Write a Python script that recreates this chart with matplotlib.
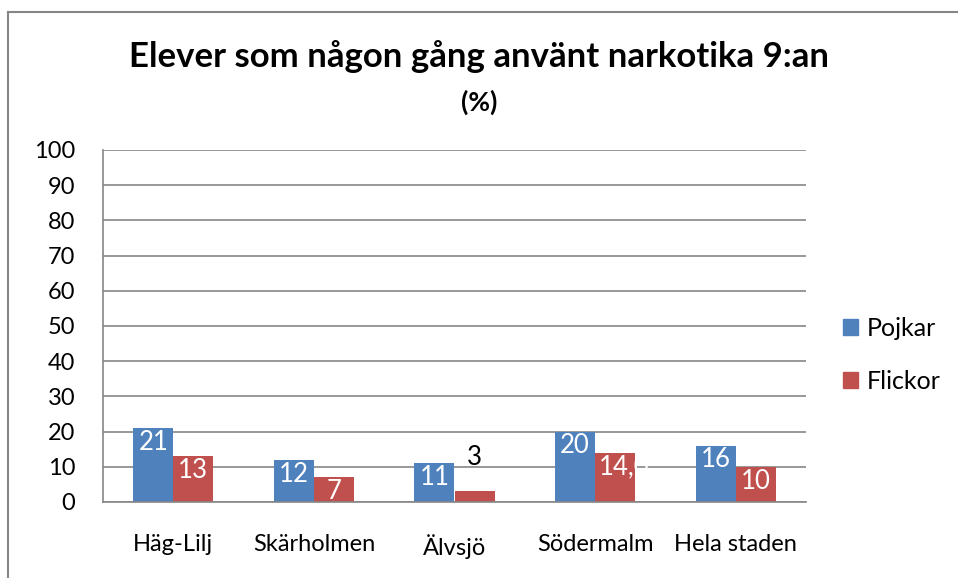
import numpy as np
import matplotlib.pyplot as plt
from matplotlib.lines import Line2D
from matplotlib.patches import Patch

plt.rcParams['font.family'] = ['Lato', 'DejaVu Sans']

omraden = ["Häg-Lilj", "Skärholmen", "Älvsjö", "Södermalm", "Hela staden"]
pojkar = [21, 12, 11, 20, 16]
flickor = [13, 7, 3, 14, 10]
flickor_etiketter = ["13", "7", "3", "14,0", "10"]

blue = '#4F81BD'
red = '#C0504D'
grey = '#868686'

fig = plt.figure(figsize=(9.58, 5.78), dpi=100)
ax = fig.add_axes([103 / 958, 1 - 502 / 578, 703 / 958, 352 / 578])

x = np.arange(len(omraden))
w = 0.285
ax.bar(x - w / 2, pojkar, w, color=blue, zorder=2)
ax.bar(x + w / 2, flickor, w, color=red, zorder=2)

for i in range(len(x)):
    ax.text(x[i] - w / 2, pojkar[i] - 0.5, str(pojkar[i]), color='white',
            ha='center', va='top', fontsize=18.5, zorder=3)
    if flickor[i] < 5:
        ax.text(x[i] + w / 2, flickor[i] + 6.0, flickor_etiketter[i], color='black',
                ha='center', va='bottom', fontsize=18.5, zorder=3)
    elif len(flickor_etiketter[i]) > 2:
        # label wider than the bar: the part outside is white on white
        ax.text(x[i] + 0.03, flickor[i] - 0.5, flickor_etiketter[i], color='white',
                ha='left', va='top', fontsize=18.5, zorder=3)
    else:
        ax.text(x[i] + w / 2, flickor[i] - 0.5, flickor_etiketter[i], color='white',
                ha='center', va='top', fontsize=18.5, zorder=3)

ax.set_xlim(-0.5, 4.5)
ax.set_ylim(0, 100)
ax.set_yticks(range(0, 101, 10))
ax.set_xticks(x)
ax.set_xticklabels(omraden)
ax.tick_params(axis='both', length=0, labelsize=17)
ax.tick_params(axis='x', pad=23)
ax.tick_params(axis='y', pad=20)
ax.grid(axis='y', color=grey, linewidth=1.2, zorder=0)
for s in ['top', 'right']:
    ax.spines[s].set_visible(False)
for s in ['left', 'bottom']:
    ax.spines[s].set_color(grey)
    ax.spines[s].set_linewidth(1.2)

fig.text(0.5, 1 - 57 / 578, "Elever som någon gång använt narkotika 9:an",
         ha='center', va='center', fontsize=25, fontweight='bold')
fig.text(0.5, 1 - 102 / 578, "(%)", ha='center', va='center',
         fontsize=19, fontweight='bold')

handles = [Patch(color=blue, label='Pojkar'), Patch(color=red, label='Flickor')]
fig.legend(handles=handles, loc='center left', bbox_to_anchor=(843 / 958, 1 - 355 / 578),
           frameon=False, fontsize=18, handlelength=0.6, handleheight=0.6,
           handletextpad=0.35, labelspacing=1.2, borderpad=0, borderaxespad=0)

# outer chart frame
fig.add_artist(Line2D([8 / 958, 8 / 958], [0, 1 - 12 / 578], color=grey, linewidth=1.5,
                      transform=fig.transFigure))
fig.add_artist(Line2D([8 / 958, 1], [1 - 12 / 578, 1 - 12 / 578], color=grey, linewidth=1.5,
                      transform=fig.transFigure))

fig.savefig('out.png', dpi=100)
